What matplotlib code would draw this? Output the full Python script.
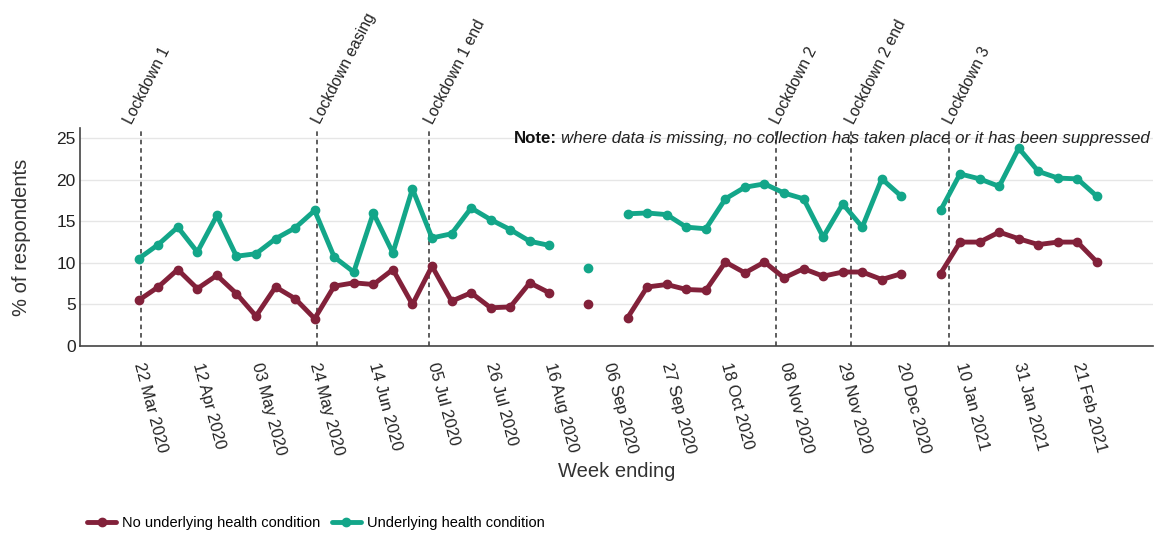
import matplotlib
matplotlib.use("Agg")
import matplotlib.pyplot as plt
import numpy as np
import pandas as pd

plt.rcParams['font.family'] = ['Liberation Sans', 'DejaVu Sans']

start_week = "2020-03-22"
n_weeks = 50
nan = np.nan

no_condition = [5.5, 7.1, 9.2, 6.9, 8.5, 6.3, 3.6, 7.1, 5.7, 3.3,
                7.2, 7.6, 7.4, 9.2, 5.0, 9.6, 5.4, 6.4, 4.6, 4.7,
                7.6, 6.4, nan, 5.0, nan, 3.4, 7.1, 7.4, 6.8, 6.7,
                10.1, 8.8, 10.1, 8.2, 9.3, 8.4, 8.9, 8.9, 8.0, 8.7,
                nan, 8.7, 12.5, 12.5, 13.7, 12.9, 12.2, 12.5, 12.5, 10.1]
with_condition = [10.5, 12.2, 14.3, 11.3, 15.7, 10.8, 11.1, 12.9, 14.2, 16.3,
                  10.7, 8.9, 16.0, 11.2, 18.9, 13.0, 13.5, 16.6, 15.2, 14.0,
                  12.6, 12.1, nan, 9.4, nan, 15.9, 16.0, 15.8, 14.3, 14.1,
                  17.7, 19.1, 19.5, 18.4, 17.7, 13.1, 17.1, 14.3, 20.1, 18.0,
                  nan, 16.3, 20.7, 20.1, 19.2, 23.8, 21.0, 20.2, 20.1, 18.0]

series_names = ["No underlying health condition", "Underlying health condition"]
series_colors = ["#82213a", "#13a689"]

event_labels = ["Lockdown 1", "Lockdown easing", "Lockdown 1 end",
                "Lockdown 2", "Lockdown 2 end", "Lockdown 3"]
event_dates = ["2020-03-23", "2020-05-25", "2020-07-04",
               "2020-11-05", "2020-12-02", "2021-01-06"]

note_bold = "Note:"
note_text = "where data is missing, no collection has taken place or it has been suppressed"

tick_start = "2020-03-22"
tick_end = "2021-02-21"

weeks = pd.date_range(start_week, periods=n_weeks, freq="7D")

fig = plt.figure(figsize=(11.54, 5.34), dpi=100)
ax = fig.add_axes([0.0693, 0.352, 0.9297, 0.408])

for vals, name, col in zip([no_condition, with_condition], series_names, series_colors):
    ax.plot(weeks, vals, color=col, lw=3.5, marker="o", ms=6, label=name,
            solid_capstyle="round", zorder=3)

ax.set_ylim(0, 26.2)
ax.set_yticks([0, 5, 10, 15, 20, 25])
ax.set_xlim(pd.Timestamp("2020-03-01"), pd.Timestamp("2021-03-20"))

ticks = pd.date_range(tick_start, tick_end, freq="21D")
ax.set_xticks(ticks)
ax.set_xticklabels([t.strftime("%d %b %Y") for t in ticks], rotation=-75,
                   ha="left", va="center", rotation_mode="anchor",
                   fontsize=11.8, color="#222222")
ax.tick_params(axis="both", length=0)
ax.tick_params(axis="x", pad=12)
ax.tick_params(axis="y", labelsize=12.5, labelcolor="#222222", pad=3)

ax.grid(axis="y", color="#e6e6e6", lw=1)
ax.set_axisbelow(True)
for s in ["top", "right"]:
    ax.spines[s].set_visible(False)
for s in ["left", "bottom"]:
    ax.spines[s].set_color("#444444")
    ax.spines[s].set_linewidth(1.2)

ax.set_ylabel("% of respondents", fontsize=14.5, color="#333333", labelpad=18)
ax.set_xlabel("Week ending", fontsize=14.5, color="#333333", labelpad=4)

for i, (lab, d) in enumerate(zip(event_labels, event_dates)):
    dt = pd.Timestamp(d)
    ax.axvline(dt, color="#333333", lw=1.1, ls=(0, (3, 2.5)), zorder=2)
    dx = -10 if i == 0 else -0.5
    ax.annotate(lab, xy=(dt, 1.0), xycoords=("data", "axes fraction"),
                xytext=(dx, 4), textcoords="offset points",
                rotation=63, rotation_mode="anchor", ha="left", va="center",
                fontsize=11.3, color="#222222")

note = ax.text(0.9975, 25, note_text, transform=ax.get_yaxis_transform(),
               ha="right", va="center", fontsize=12.2, style="italic",
               color="#222222", zorder=5)
fig.canvas.draw()
bb = note.get_window_extent()
fig.text(bb.x0 - 5, (bb.y0 + bb.y1) / 2, note_bold, transform=None,
         ha="right", va="center", fontsize=12.2, fontweight="bold",
         color="#111111")

fig.legend(loc="lower left", bbox_to_anchor=(0.064, -0.018), ncol=2,
           frameon=False, fontsize=10.5, handlelength=2.0,
           columnspacing=0.8, handletextpad=0.4)

fig.savefig("out.png", dpi=100)
